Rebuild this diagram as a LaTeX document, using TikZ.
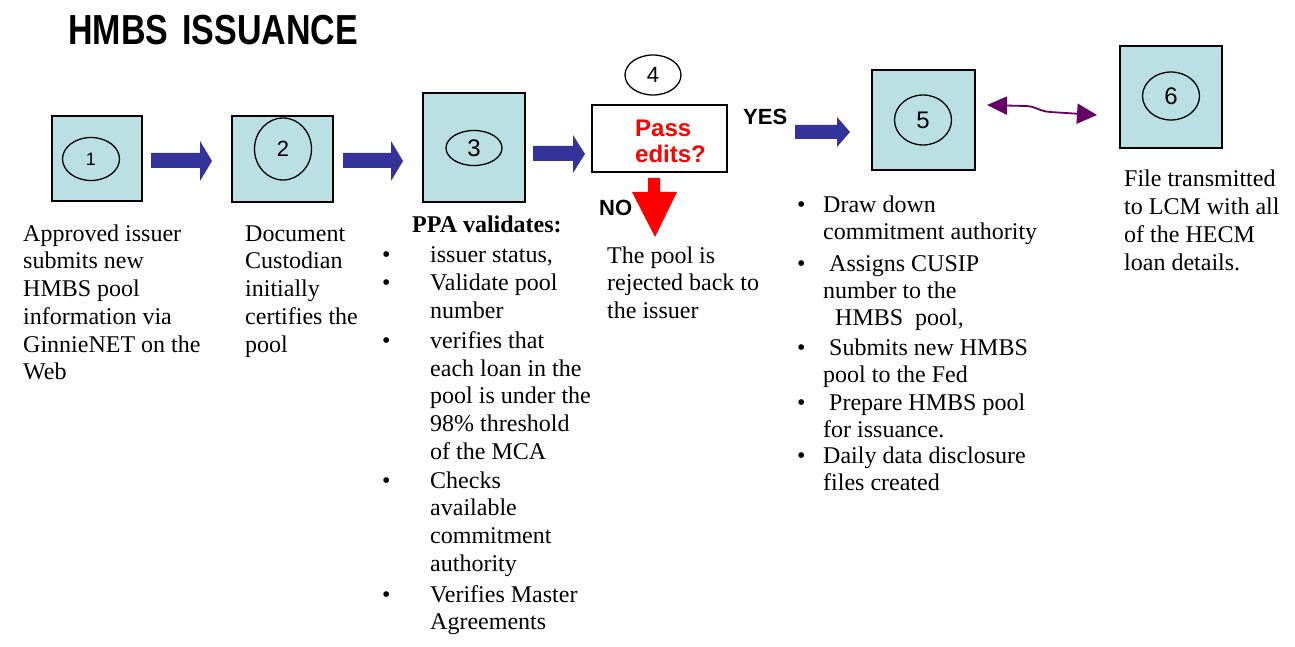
\documentclass[tikz,border=0pt]{standalone}
\usepackage{fontspec}
\setmainfont{Liberation Serif}
\setsansfont{Liberation Sans}
\newfontfamily\titlefont[FakeStretch=0.81]{Liberation Sans Bold}
\usetikzlibrary{shapes.geometric,arrows.meta}
\definecolor{boxteal}{RGB}{187,224,227}
\definecolor{arrowblue}{RGB}{51,51,153}
\definecolor{darkpurple}{RGB}{102,0,102}
\definecolor{editred}{RGB}{255,0,0}
\newcommand\lnstrut{\rule{0pt}{20pt}}
\begin{document}
\begin{tikzpicture}[x=1pt,y=-1pt,
  stepbox/.style={draw=black, line width=1.5pt, fill=boxteal, inner sep=0pt},
  decisionbox/.style={draw=black, line width=1.5pt, fill=white, inner sep=0pt},
  oval/.style={draw=black, ellipse, line width=1.3pt, inner sep=0pt},
  digit/.style={font=\sffamily\fontsize{#1}{#1}\selectfont},
  bodytext/.style={anchor=north west, inner sep=0pt, align=left,
    font=\fontsize{24}{27.7}\selectfont},
  bullettext/.style={anchor=north west, inner sep=0pt,
    font=\fontsize{24}{27.7}\selectfont},
  labeltext/.style={anchor=base west, inner sep=0pt,
    font=\sffamily\bfseries\fontsize{22}{22}\selectfont},
  blockarrow/.style={fill=arrowblue},
  noarrow/.style={fill=editred},
  linkarrow/.style={draw=darkpurple, line width=1.8pt,
    {Triangle[length=20pt,width=18pt]}-{Triangle[length=20pt,width=20pt]}}
]
\useasboundingbox (0,0) rectangle (1295,647);
\fill[white] (0,0) rectangle (1295,647);

% title
\node[anchor=base west, inner sep=0pt, font=\titlefont\fontsize{42}{42}\selectfont]
  (title) at (68,45) {HMBS\hspace{14pt}ISSUANCE};

% boxes
\node[stepbox, minimum width=90pt, minimum height=85pt] (b1) at (97,158.5) {};
\node[stepbox, minimum width=101pt, minimum height=86pt] (b2) at (282.5,159) {};
\node[stepbox, minimum width=102pt, minimum height=109pt] (b3) at (474,147.5) {};
\node[decisionbox, minimum width=135pt, minimum height=67pt] (b4) at (659.5,138.5) {};
\node[stepbox, minimum width=103pt, minimum height=100pt] (b5) at (923.5,120) {};
\node[stepbox, minimum width=102pt, minimum height=102pt] (b6) at (1171,97) {};

% ovals with numbers
\node[oval, digit=18, minimum width=57pt, minimum height=43pt] (e1) at (91,159) {1};
\node[oval, digit=22, minimum width=57pt, minimum height=62pt] (e2) at (283,149) {2};
\node[oval, digit=24, minimum width=56pt, minimum height=35pt] (e3) at (474,148) {3};
\node[oval, digit=22, minimum width=56pt, minimum height=40pt] (e4) at (653,75) {4};
\node[oval, digit=24, minimum width=57pt, minimum height=50pt] (e5) at (923,120) {5};
\node[oval, digit=24, minimum width=57pt, minimum height=48pt] (e6) at (1171,96) {6};

% decision text
\node[anchor=north west, inner sep=0pt, align=left, text=editred,
  font=\sffamily\bfseries\fontsize{24}{26}\selectfont] (pass) at (635,116.7)
  {\lnstrut Pass\\edits?};
\node[labeltext] (yes) at (743,125) {YES};
\node[labeltext] (no) at (599,215) {NO};

% blue block arrows
\fill[blockarrow] (151,153) -- (200,153) -- (200,141) -- (212,161) -- (200,181) -- (200,168) -- (151,168) -- cycle;
\fill[blockarrow] (343,153) -- (391,153) -- (391,141) -- (403,161) -- (391,181) -- (391,168) -- (343,168) -- cycle;
\fill[blockarrow] (533,146) -- (573,146) -- (573,135) -- (585,154) -- (573,173) -- (573,161) -- (533,161) -- cycle;
\fill[blockarrow] (795,125) -- (837,125) -- (837,117) -- (850,132) -- (837,147) -- (837,139) -- (795,139) -- cycle;

% red NO arrow
\fill[noarrow] (648,178) -- (660,178) -- (660,192) -- (677,192) -- (655,237) -- (632,192) -- (648,192) -- cycle;

% purple double arrow between 5 and 6
\coordinate (pl) at (987,105);
\coordinate (pr) at (1097,115);
\draw[linkarrow] (pl) -- (1025,106) .. controls (1036,106) and (1038,111) .. (1050,112) -- (pr);

% text under 1 and 2
\node[bodytext] (t1) at (23,221) {\lnstrut Approved issuer\\submits new\\HMBS pool\\information via\\GinnieNET on the\\Web};
\node[bodytext] (t2) at (245,221) {\lnstrut Document\\Custodian\\initially\\certifies the\\pool};

% PPA list
\node[bodytext, font=\bfseries\fontsize{24}{27.7}\selectfont] (ppa) at (412,212) {\lnstrut PPA validates:};
\node[bullettext] (pb1) at (382,242) {\lnstrut\textbullet};
\node[bodytext] (pi1) at (430,242) {\lnstrut issuer status,};
\node[bullettext] (pb2) at (382,270.7) {\lnstrut\textbullet};
\node[bodytext] (pi2) at (430,270.7) {\lnstrut Validate pool\\number};
\node[bullettext] (pb3) at (382,328.3) {\lnstrut\textbullet};
\node[bodytext] (pi3) at (430,328.3) {\lnstrut verifies that\\each loan in the\\pool is under the\\98\% threshold\\of the MCA};
\node[bullettext] (pb4) at (382,468) {\lnstrut\textbullet};
\node[bodytext] (pi4) at (430,468) {\lnstrut Checks\\available\\commitment\\authority};
\node[bullettext] (pb5) at (382,582) {\lnstrut\textbullet};
\node[bodytext] (pi5) at (430,582) {\lnstrut Verifies Master\\Agreements};

% rejected text
\node[bodytext] (rej) at (607,243) {\lnstrut The pool is\\rejected back to\\the issuer};

% list under 5
\node[bullettext] (fb1) at (797,192) {\lnstrut\textbullet};
\node[bodytext, font=\fontsize{24}{27}\selectfont] (fi1) at (823,192) {\lnstrut Draw down\\commitment authority};
\node[bullettext] (fb2) at (797,251) {\lnstrut\textbullet};
\node[bodytext, font=\fontsize{24}{27}\selectfont] (fi2) at (823,251) {\lnstrut\hspace{6pt}Assigns CUSIP\\number to the\\\hspace{12pt}HMBS\hspace{12pt}pool,};
\node[bullettext] (fb3) at (797,335) {\lnstrut\textbullet};
\node[bodytext, font=\fontsize{24}{27}\selectfont] (fi3) at (823,335) {\lnstrut\hspace{6pt}Submits new HMBS\\pool to the Fed};
\node[bullettext] (fb4) at (797,390) {\lnstrut\textbullet};
\node[bodytext, font=\fontsize{24}{27}\selectfont] (fi4) at (823,390) {\lnstrut\hspace{6pt}Prepare HMBS pool\\for issuance.};
\node[bullettext] (fb5) at (797,443) {\lnstrut\textbullet};
\node[bodytext, font=\fontsize{24}{27}\selectfont] (fi5) at (823,443) {\lnstrut Daily data disclosure\\files created};

% text under 6
\node[bodytext] (t6) at (1124,166.7) {\lnstrut File transmitted\\to LCM with all\\of the HECM\\loan details.};
\end{tikzpicture}
\end{document}
